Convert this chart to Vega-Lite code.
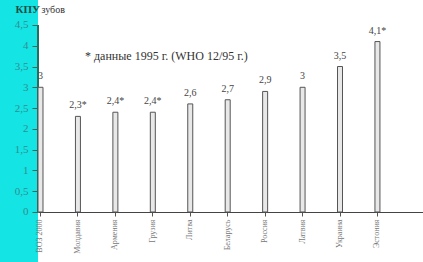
{
  "$schema": "https://vega.github.io/schema/vega-lite/v6.json",
  "width": 385,
  "height": 262,
  "autosize": {"type": "none"},
  "padding": {"left": 38, "top": 0, "right": 0, "bottom": 0},
  "background": "#14e4e4",
  "config": {"view": {"fill": "white", "stroke": null}},
  "title": {
    "text": "* данные 1995 г. (WHO 12/95 г.)",
    "anchor": "start", "frame": "group", "orient": "top",
    "baseline": "alphabetic", "offset": -72, "dx": 47,
    "font": "Liberation Serif", "fontSize": 12, "fontWeight": "normal", "color": "#333"
  },
  "data": {"values": [
    {"country": "ВОЗ 2000", "kpu": 3.0, "label": "3"},
    {"country": "Молдавия", "kpu": 2.3, "label": "2,3*"},
    {"country": "Армения", "kpu": 2.4, "label": "2,4*"},
    {"country": "Грузия", "kpu": 2.4, "label": "2,4*"},
    {"country": "Литва", "kpu": 2.6, "label": "2,6"},
    {"country": "Беларусь", "kpu": 2.7, "label": "2,7"},
    {"country": "Россия", "kpu": 2.9, "label": "2,9"},
    {"country": "Латвия", "kpu": 3.0, "label": "3"},
    {"country": "Украина", "kpu": 3.5, "label": "3,5"},
    {"country": "Эстония", "kpu": 4.1, "label": "4,1*"}
  ]},
  "encoding": {
    "x": {
      "field": "country", "type": "nominal", "sort": null,
      "scale": {"type": "band", "paddingInner": 0.8665, "paddingOuter": 0.575, "align": 0},
      "axis": {
        "offset": -50, "labelAngle": -90, "bandPosition": 0.5,
        "labelFont": "Liberation Serif", "labelFontSize": 8, "labelColor": "#777",
        "labelPadding": 3, "tickSize": 4, "tickColor": "#555",
        "domainColor": "#444", "grid": false,
        "title": "зубов", "titleFont": "Liberation Serif", "titleFontSize": 10,
        "titleFontWeight": "normal", "titleColor": "#333", "titleAngle": 0,
        "titleAlign": "left", "titleBaseline": "alphabetic",
        "titleX": 3, "titleY": -200
      }
    },
    "y": {
      "field": "kpu", "type": "quantitative",
      "scale": {"domain": [-1.203, 5.1], "nice": false, "zero": false},
      "axis": {
        "values": [0, 0.5, 1, 1.5, 2, 2.5, 3, 3.5, 4, 4.5],
        "labelExpr": "replace(format(datum.value, '~g'), '.', ',')",
        "domain": false, "grid": false, "tickSize": 6, "tickColor": "#2d6b5e",
        "labelFont": "Liberation Serif", "labelFontSize": 11, "labelColor": "#2f8f8f",
        "labelPadding": 4,
        "title": "КПУ", "titleFont": "Liberation Serif", "titleFontSize": 11,
        "titleFontWeight": "bold", "titleColor": "#1d4d45", "titleAngle": 0,
        "titleAlign": "left", "titleBaseline": "alphabetic",
        "titleX": -23, "titleY": 12
      }
    }
  },
  "layer": [
    {
      "mark": {"type": "rule", "color": "#2d6b5e", "strokeWidth": 1.2},
      "encoding": {
        "x": {"datum": "ВОЗ 2000", "bandPosition": 0},
        "y": {"datum": 0},
        "y2": {"datum": 4.5}
      }
    },
    {
      "mark": {"type": "bar", "fill": "#e8e8e8", "stroke": "#555", "strokeWidth": 1},
      "encoding": {"y2": {"datum": 0}}
    },
    {
      "mark": {"type": "text", "font": "Liberation Serif", "fontSize": 10, "color": "#444", "baseline": "alphabetic", "dy": -8},
      "encoding": {"text": {"field": "label"}}
    }
  ]
}
